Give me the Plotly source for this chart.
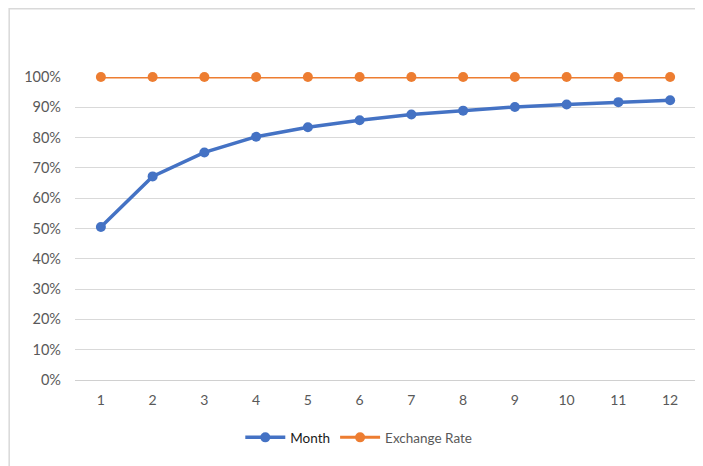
import plotly.graph_objects as go

months = [1, 2, 3, 4, 5, 6, 7, 8, 9, 10, 11, 12]
month_series = [0.505, 0.672, 0.751, 0.803, 0.834, 0.857, 0.876, 0.889, 0.901, 0.909, 0.917, 0.923]
exchange_rate = [1.0, 1.0, 1.0, 1.0, 1.0, 1.0, 1.0, 1.0, 1.0, 1.0, 1.0, 1.0]
x_labels = [str(m) for m in months]

BLUE = "#4472C4"
ORANGE = "#ED7D31"
FONT = "Lato"

fig = go.Figure()
fig.add_trace(go.Scatter(
    x=x_labels, y=month_series, mode="lines+markers",
    name="<span style='color:#1a1a1a'>Month</span>",
    line=dict(color=BLUE, width=3.5), marker=dict(size=10, color=BLUE),
    cliponaxis=False,
))
fig.add_trace(go.Scatter(
    x=x_labels, y=exchange_rate, mode="lines+markers",
    name="Exchange Rate",
    line=dict(color=ORANGE, width=3), marker=dict(size=10, color=ORANGE),
    cliponaxis=False,
))

fig.update_layout(
    width=695, height=458,
    margin=dict(l=67, r=7, t=69, b=86),
    paper_bgcolor="white", plot_bgcolor="white",
    font=dict(family=FONT, size=14, color="#595959"),
    showlegend=True,
    legend=dict(orientation="h", x=0.457, xanchor="center", y=-0.19, yanchor="middle",
                font=dict(family=FONT, size=13.5, color="#595959"),
                itemwidth=40, tracegroupgap=0),
    xaxis=dict(type="category", range=[-0.5, 11.5], showgrid=False,
               showline=True, linecolor="#d0d0d0", linewidth=1,
               ticks="", tickfont=dict(size=14, color="#595959"), ticklabelstandoff=7),
    yaxis=dict(range=[0, 1], dtick=0.1, tickformat=".0%", showgrid=True,
               gridcolor="#d9d9d9", gridwidth=1, zeroline=False, showline=False,
               ticks="", tickfont=dict(size=14.5, color="#595959"), ticklabelstandoff=13),
    shapes=[dict(type="rect", xref="paper", yref="paper",
                 x0=-0.106, x1=1.05, y0=-0.5, y1=1.225,
                 line=dict(color="#d9d9d9", width=1.5), layer="below")],
)

fig.write_html("out.html")
